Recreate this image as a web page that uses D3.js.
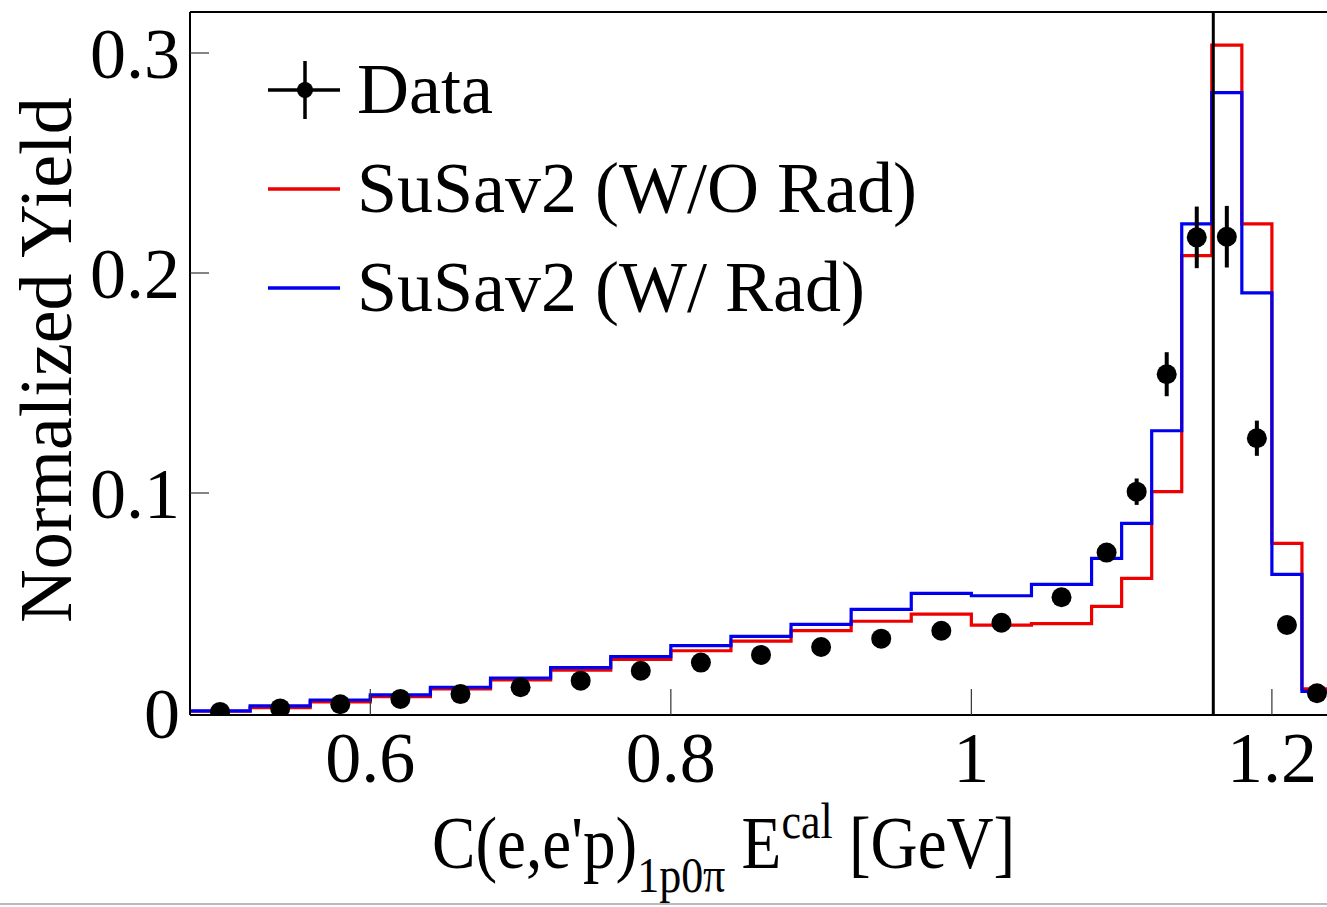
<!DOCTYPE html>
<html>
<head>
<meta charset="utf-8">
<script src="https://cdn.jsdelivr.net/npm/d3@7"></script>
<style>
  html, body { margin: 0; padding: 0; background: #ffffff; }
  svg { display: block; font-family: "Liberation Serif", "Times New Roman", serif; }
</style>
</head>
<body>
<svg id="chart" width="1327" height="907"></svg>
<script>
// Bin edges of the calorimetric-energy histogram [GeV]
const binEdges = [0.48, 0.52, 0.56, 0.60, 0.64, 0.68, 0.72, 0.76, 0.80, 0.84, 0.88, 0.92,
                  0.96, 1.00, 1.04, 1.08, 1.10, 1.12, 1.14, 1.16, 1.18, 1.20, 1.22, 1.24];

// Measured normalized yield per bin and its uncertainty
const dataYield = [0.0005, 0.0021, 0.0040, 0.0064, 0.0086, 0.0117, 0.0147, 0.0192, 0.0229,
                   0.0264, 0.0300, 0.0338, 0.0374, 0.0410, 0.0526, 0.0729, 0.1006, 0.1540,
                   0.2162, 0.2165, 0.1249, 0.0400, 0.0090];
const dataError = [0.0003, 0.0005, 0.0006, 0.0008, 0.0009, 0.0010, 0.0011, 0.0013, 0.0014,
                   0.0015, 0.0016, 0.0017, 0.0018, 0.0020, 0.0025, 0.0040, 0.0060, 0.0100,
                   0.0140, 0.0140, 0.0080, 0.0030, 0.0015];

// SuSav2 predictions without / with radiative corrections
const susavNoRad = [0.0008, 0.0024, 0.0051, 0.0074, 0.0109, 0.0151, 0.0195, 0.0244, 0.0283,
                    0.0327, 0.0374, 0.0417, 0.0449, 0.0399, 0.0406, 0.0485, 0.0612, 0.1006,
                    0.2079, 0.3036, 0.2223, 0.0771, 0.0110];
const susavRad   = [0.0010, 0.0032, 0.0059, 0.0082, 0.0117, 0.0159, 0.0206, 0.0256, 0.0306,
                    0.0348, 0.0403, 0.0471, 0.0544, 0.0533, 0.0585, 0.0703, 0.0862, 0.1283,
                    0.2223, 0.2820, 0.1910, 0.0630, 0.0098];

// Axis ticks and beam energy marker
const xTicks = [0.6, 0.8, 1.0, 1.2];
const xTickLabels = ["0.6", "0.8", "1", "1.2"];
const yTicks = [0, 0.1, 0.2, 0.3];
const yTickLabels = ["0", "0.1", "0.2", "0.3"];
const beamEnergy = 1.161;

const legendLabels = ["Data", "SuSav2 (W/O Rad)", "SuSav2 (W/ Rad)"];
const colorNoRad = "#ee0000";
const colorRad = "#0000ee";

const svg = d3.select("#chart");

const frameLeft = 190, frameTop = 12, frameBottom = 715;
const x = d3.scaleLinear().domain([0.48, 1.24]).range([frameLeft, 1332]);
const y = d3.scaleLinear().domain([0, 0.3]).range([713, 53]);

const plot = svg.append("g");

// clip to the frame
svg.append("defs").append("clipPath").attr("id", "frameClip")
  .append("rect").attr("x", frameLeft).attr("y", frameTop)
  .attr("width", 1332 - frameLeft).attr("height", frameBottom - frameTop);

const inner = plot.append("g").attr("clip-path", "url(#frameClip)");

// Histogram step lines
function stepPoints(values) {
  const pts = values.map((v, i) => [binEdges[i], v]);
  pts.push([binEdges[binEdges.length - 1], values[values.length - 1]]);
  return pts;
}
const stepLine = d3.line()
  .x(d => x(d[0])).y(d => y(d[1]))
  .curve(d3.curveStepAfter);

inner.append("path").attr("d", stepLine(stepPoints(susavNoRad)))
  .attr("fill", "none").attr("stroke", colorNoRad).attr("stroke-width", 3.2);
inner.append("path").attr("d", stepLine(stepPoints(susavRad)))
  .attr("fill", "none").attr("stroke", colorRad).attr("stroke-width", 3.2);

// Beam energy line
inner.append("line")
  .attr("x1", x(beamEnergy)).attr("x2", x(beamEnergy))
  .attr("y1", frameTop).attr("y2", frameBottom)
  .attr("stroke", "#000").attr("stroke-width", 3);

// Data points with error bars
const centers = dataYield.map((v, i) => (binEdges[i] + binEdges[i + 1]) / 2);
const pts = inner.append("g");
dataYield.forEach((v, i) => {
  pts.append("line")
    .attr("x1", x(centers[i])).attr("x2", x(centers[i]))
    .attr("y1", y(v - dataError[i])).attr("y2", y(v + dataError[i]))
    .attr("stroke", "#000").attr("stroke-width", 4);
  pts.append("circle")
    .attr("cx", x(centers[i])).attr("cy", y(v)).attr("r", 10)
    .attr("fill", "#000");
});

// Frame
plot.append("line").attr("x1", frameLeft).attr("x2", 1327).attr("y1", frameTop).attr("y2", frameTop)
  .attr("stroke", "#000").attr("stroke-width", 2);
plot.append("line").attr("x1", frameLeft).attr("x2", frameLeft).attr("y1", frameTop).attr("y2", frameBottom)
  .attr("stroke", "#000").attr("stroke-width", 2);
plot.append("line").attr("x1", frameLeft).attr("x2", 1327).attr("y1", frameBottom).attr("y2", frameBottom)
  .attr("stroke", "#000").attr("stroke-width", 2);

// Ticks
xTicks.forEach(t => {
  plot.append("line").attr("x1", x(t)).attr("x2", x(t))
    .attr("y1", frameBottom).attr("y2", frameBottom - 26)
    .attr("stroke", "#333").attr("stroke-width", 1.2);
});
yTicks.forEach(t => {
  if (t === 0) return;
  plot.append("line").attr("x1", frameLeft).attr("x2", frameLeft + 19)
    .attr("y1", y(t)).attr("y2", y(t))
    .attr("stroke", "#333").attr("stroke-width", 1.2);
});

// Tick labels
xTicks.forEach((t, i) => {
  svg.append("text").attr("x", x(t)).attr("y", 782)
    .attr("text-anchor", "middle").attr("font-size", 72).attr("fill", "#000")
    .text(xTickLabels[i]);
});
yTicks.forEach((t, i) => {
  svg.append("text").attr("x", 180).attr("y", y(t) + 25)
    .attr("text-anchor", "end").attr("font-size", 72).attr("fill", "#000")
    .text(yTickLabels[i]);
});

// Axis titles
svg.append("text")
  .attr("transform", "translate(71,360) rotate(-90)")
  .attr("text-anchor", "middle").attr("font-size", 74).attr("fill", "#000")
  .text("Normalized Yield");

const xt = svg.append("text")
  .attr("transform", "translate(432,868) scale(0.88,1)")
  .attr("font-size", 74).attr("fill", "#000");
xt.append("tspan").text("C(e,e'p)");
xt.append("tspan").attr("font-size", 50).attr("dy", 24).text("1p0π");
xt.append("tspan").attr("dy", -24).text(" E");
xt.append("tspan").attr("font-size", 50).attr("dy", -30).text("cal");
xt.append("tspan").attr("dy", 30).text(" [GeV]");

// Legend
const legend = svg.append("g");
const legendRows = [90, 189, 288];
// Data entry
legend.append("line").attr("x1", 268).attr("x2", 340).attr("y1", legendRows[0]).attr("y2", legendRows[0])
  .attr("stroke", "#000").attr("stroke-width", 3.5);
legend.append("line").attr("x1", 305).attr("x2", 305).attr("y1", legendRows[0] - 29).attr("y2", legendRows[0] + 29)
  .attr("stroke", "#000").attr("stroke-width", 3.5);
legend.append("circle").attr("cx", 305).attr("cy", legendRows[0]).attr("r", 8).attr("fill", "#000");
// Model entries
[colorNoRad, colorRad].forEach((c, i) => {
  legend.append("line").attr("x1", 268).attr("x2", 340)
    .attr("y1", legendRows[i + 1]).attr("y2", legendRows[i + 1])
    .attr("stroke", c).attr("stroke-width", 3.5);
});
legendLabels.forEach((lab, i) => {
  legend.append("text").attr("x", 357).attr("y", legendRows[i] + 23)
    .attr("font-size", 72).attr("fill", "#000").text(lab);
});

// Thin separator along the bottom edge
svg.append("line").attr("x1", 0).attr("x2", 1327).attr("y1", 904).attr("y2", 904)
  .attr("stroke", "#bbb").attr("stroke-width", 2);
</script>
</body>
</html>
